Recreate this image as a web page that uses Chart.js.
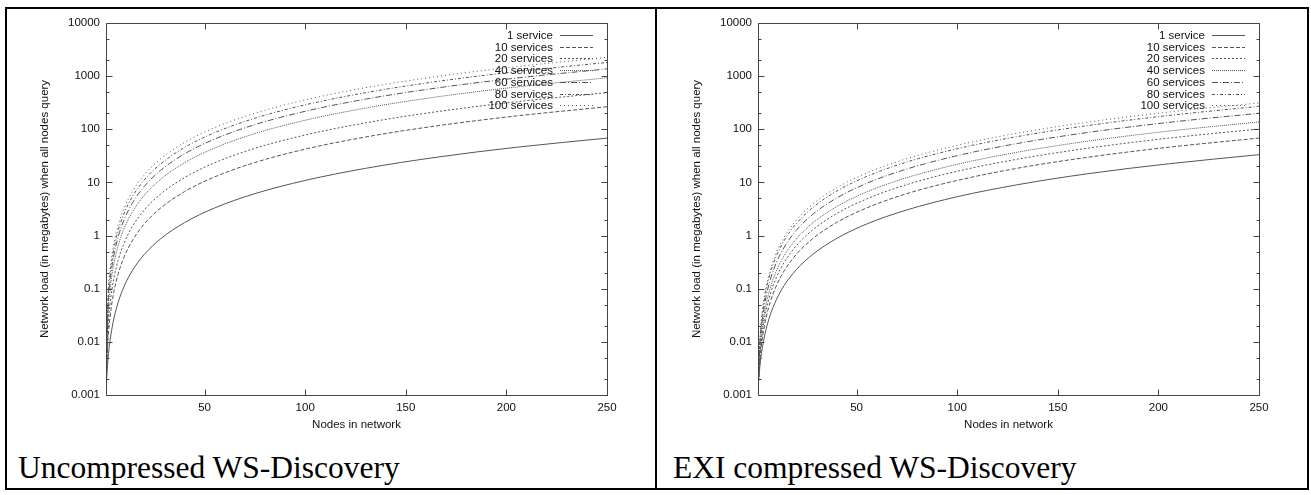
<!doctype html>
<html lang="en">
<head>
<meta charset="utf-8">
<title>WS-Discovery network load</title>
<script src="https://cdn.jsdelivr.net/npm/chart.js"></script>
<style>
  body { margin: 0; background: #fff; width: 1311px; height: 495px; position: relative; overflow: hidden; }
  .box { position: absolute; box-sizing: border-box; border: 2px solid #000; }
  .divider { position: absolute; background: #000; }
  .plot { position: absolute; width: 646px; height: 430px; }
  .caption { position: absolute; font-family: "Liberation Serif", "Times New Roman", serif; font-size: 31.5px; line-height: 32px; color: #000; white-space: nowrap; }
</style>
</head>
<body>
  <div class="box" style="left:5px; top:7px; width:1304px; height:483px;"></div>
  <div class="divider" style="left:655px; top:7px; width:2px; height:483px;"></div>

  <div class="plot" style="left:8px; top:10px;"><canvas id="plainChart"></canvas></div>
  <div class="plot" style="left:660px; top:10px;"><canvas id="exiChart"></canvas></div>

  <div class="caption" style="left:18px; top:452px;">Uncompressed WS-Discovery</div>
  <div class="caption" style="left:673px; top:452px;">EXI compressed WS-Discovery</div>

<script>
// nodes in network (x samples)
const nodes = [1, 2, 3, 4, 5, 7, 10, 14, 20, 28, 40, 55, 75, 100, 130, 165, 205, 250];
const serviceLabels = ['1 service', '10 services', '20 services', '40 services', '60 services', '80 services', '100 services'];

// uncompressed, megabytes
const u1   = [0.0013, 0.0048, 0.0104, 0.0183, 0.0283, 0.0549, 0.111, 0.216, 0.44, 0.86, 1.75, 3.31, 6.15, 10.9, 18.4, 29.7, 45.9, 68.2];
const u10  = [0.0013, 0.0111, 0.0295, 0.0563, 0.0917, 0.188, 0.396, 0.793, 1.65, 3.26, 6.7, 12.7, 23.7, 42.3, 71.6, 115.5, 178.4, 265.5];
const u20  = [0.0013, 0.0183, 0.0511, 0.0996, 0.164, 0.34, 0.721, 1.45, 3.02, 5.99, 12.3, 23.4, 43.8, 78, 132.2, 213.2, 329.4, 490.2];
const u40  = [0.0013, 0.0325, 0.0935, 0.1845, 0.305, 0.637, 1.36, 2.74, 5.7, 11.3, 23.4, 44.4, 83, 148, 250.7, 404.5, 625.1, 930.3];
const u60  = [0.0013, 0.0466, 0.136, 0.269, 0.447, 0.934, 1.99, 4.02, 8.39, 16.7, 34.4, 65.4, 122.3, 218, 369.3, 595.8, 920.7, 1370];
const u80  = [0.0013, 0.0608, 0.178, 0.354, 0.588, 1.23, 2.63, 5.31, 11.1, 22, 45.4, 86.4, 161.5, 288, 487.9, 787.1, 1216, 1810];
const u100 = [0.0013, 0.0749, 0.221, 0.439, 0.729, 1.53, 3.27, 6.6, 13.8, 27.4, 56.4, 107.4, 200.7, 357.9, 606.3, 978.2, 1511, 2250];

// EXI compressed, megabytes
const e1   = [0.0013, 0.00366, 0.00708, 0.0116, 0.0171, 0.0314, 0.0607, 0.115, 0.227, 0.437, 0.879, 1.65, 3.04, 5.38, 9.06, 14.6, 22.4, 33.3];
const e10  = [0.0013, 0.00478, 0.0105, 0.0183, 0.0283, 0.055, 0.111, 0.217, 0.441, 0.862, 1.76, 3.31, 6.16, 10.9, 18.5, 29.8, 45.9, 68.3];
const e20  = [0.0013, 0.00584, 0.0136, 0.0247, 0.0389, 0.0772, 0.159, 0.313, 0.642, 1.26, 2.58, 4.89, 9.1, 16.2, 27.4, 44.1, 68.1, 101.3];
const e40  = [0.0013, 0.007, 0.0171, 0.0316, 0.0505, 0.1015, 0.211, 0.419, 0.862, 1.7, 3.49, 6.61, 12.3, 21.9, 37.1, 59.8, 92.3, 137.3];
const e60  = [0.0013, 0.00903, 0.0232, 0.0438, 0.0708, 0.144, 0.302, 0.603, 1.25, 2.47, 5.06, 9.61, 17.9, 31.9, 54.1, 87.2, 134.7, 200.3];
const e80  = [0.0013, 0.0113, 0.0299, 0.0572, 0.0932, 0.191, 0.403, 0.807, 1.67, 3.32, 6.82, 12.95, 24.2, 43.1, 72.9, 117.6, 181.7, 270.3];
const e100 = [0.0013, 0.0127, 0.0341, 0.0655, 0.107, 0.22, 0.466, 0.933, 1.94, 3.84, 7.9, 15, 28, 49.9, 84.5, 136.3, 210.6, 313.3];

const xTicks = [50, 100, 150, 200, 250];
const yTicks = [0.001, 0.01, 0.1, 1, 10, 100, 1000, 10000];
const yMinorTicks = [0.002, 0.005, 0.02, 0.05, 0.2, 0.5, 2, 5, 20, 50, 200, 500, 2000, 5000];

// gnuplot-ish line types
const dashes = [[], [4, 2], [2, 2], [1, 1], [6, 2, 1, 2], [3, 2, 1, 2], [1, 3]];

Chart.defaults.font.family = '"Liberation Sans", Arial, sans-serif';
Chart.defaults.font.size = 11.5;
Chart.defaults.color = '#111';

// box around the plot with inward ticks on all four sides, plus the key
const gnuplotFrame = {
  id: 'gnuplotFrame',
  afterDraw(chart) {
    const ctx = chart.ctx;
    const a = chart.chartArea;
    const x = chart.scales.x, y = chart.scales.y;
    const L = Math.round(a.left) + 0.5, R = Math.round(a.right) + 0.5;
    const T = Math.round(a.top) + 0.5, B = Math.round(a.bottom) + 0.5;
    ctx.save();
    ctx.strokeStyle = '#444';
    ctx.lineWidth = 1;
    ctx.setLineDash([]);
    ctx.beginPath();
    ctx.rect(L, T, R - L, B - T);
    xTicks.forEach(v => {
      const px = Math.round(x.getPixelForValue(v)) + 0.5;
      ctx.moveTo(px, B); ctx.lineTo(px, B - 6);
      ctx.moveTo(px, T); ctx.lineTo(px, T + 6);
    });
    yTicks.forEach(v => {
      const py = Math.round(y.getPixelForValue(v)) + 0.5;
      ctx.moveTo(L, py); ctx.lineTo(L + 6, py);
      ctx.moveTo(R, py); ctx.lineTo(R - 6, py);
    });
    yMinorTicks.forEach(v => {
      const py = Math.round(y.getPixelForValue(v)) + 0.5;
      ctx.moveTo(L, py); ctx.lineTo(L + 3, py);
      ctx.moveTo(R, py); ctx.lineTo(R - 3, py);
    });
    ctx.stroke();

    // key, top right
    ctx.font = '11.5px "Liberation Sans", Arial, sans-serif';
    ctx.textAlign = 'right';
    ctx.textBaseline = 'middle';
    chart.data.datasets.forEach((ds, i) => {
      const ly = Math.round(a.top + 12 + i * 11.7) + 0.5;
      ctx.fillStyle = '#111';
      ctx.fillText(ds.label, a.right - 54, ly);
      ctx.strokeStyle = ds.borderColor;
      ctx.setLineDash(ds.borderDash);
      ctx.beginPath();
      ctx.moveTo(a.right - 47, ly);
      ctx.lineTo(a.right - 14, ly);
      ctx.stroke();
    });
    ctx.restore();
  }
};

function makeChart(id, series) {
  return new Chart(document.getElementById(id), {
    type: 'line',
    data: {
      datasets: series.map((vals, i) => ({
        label: serviceLabels[i],
        data: nodes.map((n, k) => ({ x: n, y: vals[k] })),
        borderColor: '#555',
        borderWidth: 1,
        borderDash: dashes[i],
        pointRadius: 0,
        cubicInterpolationMode: 'monotone',
        fill: false
      }))
    },
    plugins: [gnuplotFrame],
    options: {
      responsive: true,
      maintainAspectRatio: false,
      animation: false,
      events: [],
      layout: { padding: { left: 0, top: 13, right: 47, bottom: 0 } },
      plugins: { legend: { display: false }, tooltip: { enabled: false } },
      scales: {
        x: {
          type: 'linear',
          min: 1,
          max: 250,
          grid: { display: false, drawTicks: false },
          border: { display: false },
          afterBuildTicks: s => { s.ticks = xTicks.map(v => ({ value: v })); },
          afterFit: s => { s.height = 45; },
          ticks: { padding: 6, maxRotation: 0, callback: v => String(v) },
          title: { display: true, text: 'Nodes in network', padding: { top: 0, bottom: 8 } }
        },
        y: {
          type: 'logarithmic',
          min: 0.001,
          max: 10000,
          grid: { display: false, drawTicks: false },
          border: { display: false },
          afterBuildTicks: s => { s.ticks = yTicks.map(v => ({ value: v })); },
          afterFit: s => { s.width = 98; },
          ticks: { padding: 6, callback: v => String(v) },
          title: { display: true, text: 'Network load (in megabytes) when all nodes query', padding: { top: 30, bottom: 0 } }
        }
      }
    }
  });
}

makeChart('plainChart', [u1, u10, u20, u40, u60, u80, u100]);
makeChart('exiChart', [e1, e10, e20, e40, e60, e80, e100]);
</script>
</body>
</html>
